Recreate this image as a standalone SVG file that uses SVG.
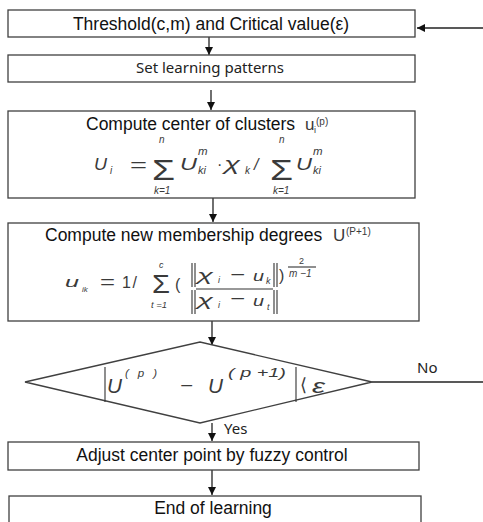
<svg xmlns="http://www.w3.org/2000/svg" width="483" height="522" viewBox="0 0 483 522">
<style>
.box{fill:#fff;stroke:#404040;stroke-width:1.3}
.t{font-family:"Liberation Sans",Arial,sans-serif;font-size:17.5px;fill:#111;text-anchor:middle}
.tl{font-family:"Liberation Sans",Arial,sans-serif;font-size:17.5px;fill:#111;text-anchor:start}
.s{font-family:"Noto Sans","Open Sans",sans-serif;font-size:15px;fill:#222}
.m{font-family:"Liberation Sans",Arial,sans-serif;font-style:italic;fill:#3a3a3a}
.r{font-family:"Liberation Sans",Arial,sans-serif;fill:#3a3a3a}
.d{font-family:"DejaVu Sans",sans-serif;fill:#3a3a3a}
.ln{stroke:#222;stroke-width:1.3;fill:none}
.bar{stroke:#333;stroke-width:1.1;fill:none}
</style>
<defs>
<marker id="ah" markerWidth="8" markerHeight="8" refX="8" refY="4" orient="auto" markerUnits="userSpaceOnUse">
<path d="M0,0 L8,4 L0,8 z" fill="#111"/>
</marker>
</defs>
<g id="connectors">
<line class="ln" x1="483" y1="28" x2="417" y2="28" marker-end="url(#ah)"/>
<line class="ln" x1="209" y1="37" x2="209" y2="55" marker-end="url(#ah)"/>
<line class="ln" x1="211" y1="90" x2="211" y2="110" marker-end="url(#ah)"/>
<line class="ln" x1="213" y1="198" x2="213" y2="222" marker-end="url(#ah)"/>
<line class="ln" x1="212" y1="321" x2="212" y2="345" marker-end="url(#ah)"/>
<line class="ln" x1="212" y1="423" x2="212" y2="441" marker-end="url(#ah)"/>
<line class="ln" x1="212" y1="470" x2="212" y2="495" marker-end="url(#ah)"/>
<line class="ln" x1="372" y1="382" x2="483" y2="382"/>
<text class="s" x="417" y="373">No</text>
<text class="s" x="224" y="434">Yes</text>
</g>
<g id="n1">
<rect class="box" x="8" y="10" width="407" height="27"/>
<text class="t" x="211" y="30">Threshold(c,m) and Critical value(ε)</text>
</g>
<g id="n2">
<rect class="box" x="8" y="55" width="407" height="27"/>
<text class="s" x="210" y="73" text-anchor="middle">Set learning patterns</text>
</g>
<g id="n3">
<rect class="box" x="8" y="111" width="407" height="87"/>
<text class="tl" x="86" y="130">Compute center of clusters</text>
<text class="r" x="305" y="130" font-size="17">u</text>
<text class="r" x="314" y="133" font-size="9">i</text>
<text class="r" x="316" y="125" font-size="10">(p)</text>
<text class="m" x="94" y="170" font-size="16.5" textLength="13" lengthAdjust="spacingAndGlyphs">U</text>
<text class="m" x="110" y="174" font-size="10">i</text>
<text class="r" x="130" y="171" font-size="18" textLength="17" lengthAdjust="spacingAndGlyphs">=</text>
<text class="r" x="152" y="180" font-size="30" textLength="23" lengthAdjust="spacingAndGlyphs">Σ</text>
<text class="m" x="159" y="143" font-size="10">n</text>
<text class="m" x="154" y="194" font-size="10">k=1</text>
<text class="m" x="180" y="170" font-size="16.5" textLength="17" lengthAdjust="spacingAndGlyphs">U</text>
<text class="m" x="198" y="155" font-size="11.5">m</text>
<text class="m" x="198" y="174" font-size="11">ki</text>
<text class="r" x="217" y="170" font-size="16">·</text>
<text class="m" x="224" y="170" font-size="18" textLength="16" lengthAdjust="spacingAndGlyphs">χ</text>
<text class="m" x="245" y="174" font-size="10">k</text>
<text class="m" x="254" y="170" font-size="16">/</text>
<text class="r" x="270" y="180" font-size="30" textLength="23" lengthAdjust="spacingAndGlyphs">Σ</text>
<text class="m" x="279" y="143" font-size="10">n</text>
<text class="m" x="273" y="194" font-size="10">k=1</text>
<text class="m" x="296" y="170" font-size="16.5" textLength="16" lengthAdjust="spacingAndGlyphs">U</text>
<text class="m" x="313" y="155" font-size="11.5">m</text>
<text class="m" x="313" y="174" font-size="11">ki</text>
</g>
<g id="n4">
<rect class="box" x="8" y="223" width="411" height="98"/>
<text class="tl" x="45" y="241">Compute new membership degrees</text>
<text class="r" x="333" y="241" font-size="17">U</text>
<text class="r" x="346" y="235" font-size="10">(P+1)</text>
<text class="m" x="65" y="287" font-size="15" textLength="14" lengthAdjust="spacingAndGlyphs">u</text>
<text class="m" x="82" y="292" font-size="8">ik</text>
<text class="r" x="100" y="288" font-size="18" textLength="15" lengthAdjust="spacingAndGlyphs">=</text>
<text class="r" x="122" y="288" font-size="16" textLength="15">1/</text>
<text class="r" x="152" y="293" font-size="25" textLength="18" lengthAdjust="spacingAndGlyphs">Σ</text>
<text class="m" x="159" y="268" font-size="9">c</text>
<text class="m" x="151" y="308" font-size="9.5">t =1</text>
<text class="r" x="175" y="290" font-size="16">(</text>
<path class="bar" d="M192,263 V287 M195,263 V287 M274,263 V287 M277,263 V287 M192,290 V314 M195,290 V314 M274,290 V314 M277,290 V314"/>
<line class="bar" x1="196" y1="289" x2="273" y2="289" stroke-width="0.8"/>
<text class="m" x="197" y="281" font-size="17" textLength="16" lengthAdjust="spacingAndGlyphs">χ</text>
<text class="m" x="218" y="283" font-size="9">i</text>
<text class="r" x="230" y="280" font-size="16" textLength="15" lengthAdjust="spacingAndGlyphs">−</text>
<text class="m" x="253" y="281" font-size="15" textLength="11" lengthAdjust="spacingAndGlyphs">u</text>
<text class="m" x="266" y="284" font-size="9">k</text>
<text class="m" x="197" y="306" font-size="17" textLength="16" lengthAdjust="spacingAndGlyphs">χ</text>
<text class="m" x="218" y="308" font-size="9">i</text>
<text class="r" x="230" y="304" font-size="16" textLength="15" lengthAdjust="spacingAndGlyphs">−</text>
<text class="m" x="253" y="306" font-size="15" textLength="11" lengthAdjust="spacingAndGlyphs">u</text>
<text class="m" x="267" y="310" font-size="9">t</text>
<text class="r" x="279" y="281" font-size="16">)</text>
<text class="r" x="299" y="264" font-size="9">2</text>
<line class="bar" x1="288" y1="267" x2="316" y2="267" stroke-width="0.8"/>
<text class="m" x="289" y="277" font-size="10">m −1</text>
</g>
<g id="n5">
<polygon class="box" points="25,382 200,342 372,382 200,423"/>
<path class="bar" d="M105,367 V402 M296,367 V402"/>
<text class="m" x="107" y="393" font-size="20" textLength="15" lengthAdjust="spacingAndGlyphs">U</text>
<text class="m" x="125" y="377" font-size="11.5" textLength="32">( p )</text>
<text class="r" x="180" y="391" font-size="16" textLength="13" lengthAdjust="spacingAndGlyphs">−</text>
<text class="m" x="208" y="393" font-size="20" textLength="15" lengthAdjust="spacingAndGlyphs">U</text>
<text class="m" x="228" y="377" font-size="12.5" textLength="58" lengthAdjust="spacingAndGlyphs">( p +1)</text>
<text class="d" x="300" y="391" font-size="18">⟨</text>
<text class="m" x="312" y="393" font-size="20" textLength="13" lengthAdjust="spacingAndGlyphs">ε</text>
</g>
<g id="n6">
<rect class="box" x="8" y="442" width="411" height="28"/>
<text class="t" x="212" y="461">Adjust center point by fuzzy control</text>
</g>
<g id="n7">
<rect class="box" x="9" y="496" width="412" height="30"/>
<text class="t" x="213" y="514">End of learning</text>
</g>
</svg>
